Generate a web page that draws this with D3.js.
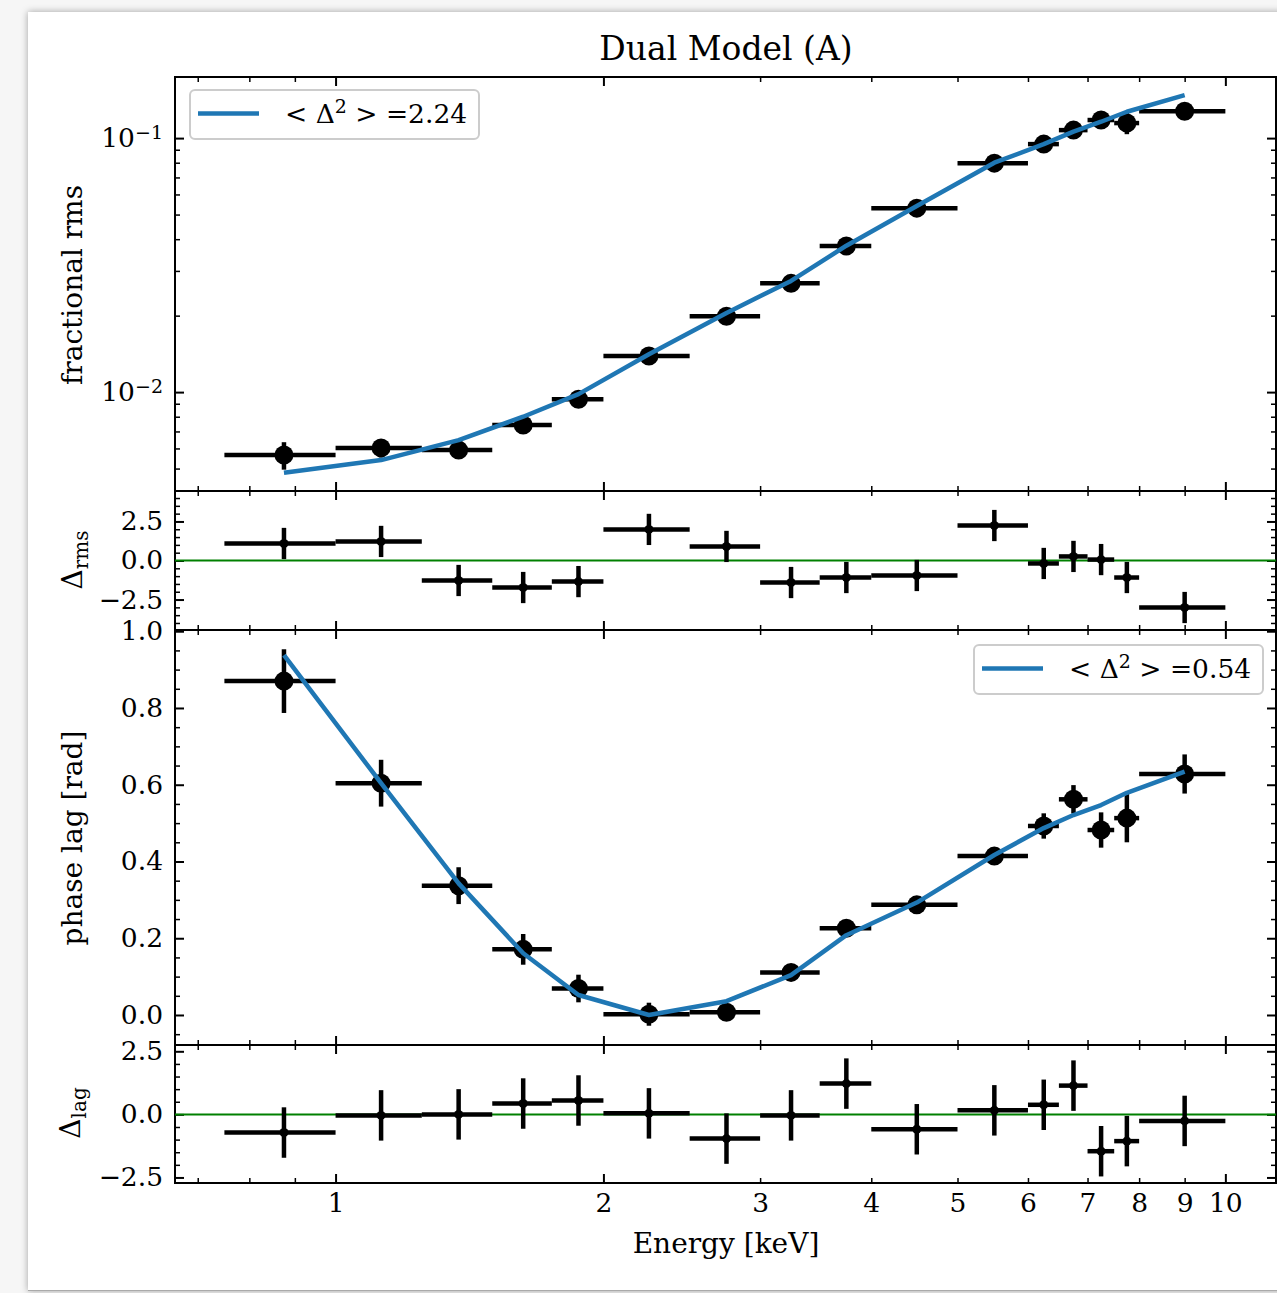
<!DOCTYPE html>
<html>
<head>
<meta charset="utf-8">
<script src="https://cdn.jsdelivr.net/npm/d3@7"></script>
<style>
  html, body { margin: 0; padding: 0; background: #f6f6f6; overflow: hidden; }
  #card { position: absolute; left: 28px; top: 12px; width: 1300px; height: 1278px;
          background: #fff; box-shadow: 0 0 7px rgba(0,0,0,0.35); border-bottom: 1px solid #aaa; }
  svg { position: absolute; left: 0; top: 0; }
  text { font-family: "DejaVu Serif", serif; fill: #000; }
</style>
</head>
<body>
<div id="card"></div>
<svg id="fig" width="1277" height="1293"></svg>
<script>
// Energy bins [keV]
const binLo = [0.75, 1.0, 1.25, 1.5, 1.75, 2.0, 2.5, 3.0, 3.5, 4.0, 5.0, 6.0, 6.5, 7.0, 7.5, 8.0];
const binHi = [1.0, 1.25, 1.5, 1.75, 2.0, 2.5, 3.0, 3.5, 4.0, 5.0, 6.0, 6.5, 7.0, 7.5, 8.0, 10.0];
const energy = [0.875, 1.125, 1.375, 1.625, 1.875, 2.25, 2.75, 3.25, 3.75, 4.5, 5.5, 6.25, 6.75, 7.25, 7.75, 9.0];

// Fractional rms spectrum, model and residuals
const rmsData  = [0.00565, 0.00603, 0.00591, 0.00742, 0.00938, 0.01387, 0.0199, 0.0268, 0.0376, 0.0530, 0.0797, 0.0947, 0.1075, 0.1178, 0.1146, 0.1276];
const rmsErr   = [0.0007, 0.0005, 0.00045, 0.00035, 0.0003, 0.0004, 0.0005, 0.0006, 0.0008, 0.0010, 0.0015, 0.003, 0.004, 0.004, 0.011, 0.0067];
const rmsModel = [0.00481, 0.00540, 0.00647, 0.0080, 0.00982, 0.0141, 0.0205, 0.0274, 0.0377, 0.0540, 0.0800, 0.0947, 0.1060, 0.1160, 0.1270, 0.1476];
const rmsResid = [1.09, 1.22, -1.28, -1.73, -1.35, 1.99, 0.90, -1.41, -1.09, -0.96, 2.24, -0.19, 0.26, 0.06, -1.09, -3.01];

// Phase-lag spectrum, model and residuals
const lagData  = [0.870, 0.604, 0.337, 0.171, 0.069, 0.002, 0.007, 0.111, 0.226, 0.287, 0.414, 0.4925, 0.562, 0.482, 0.513, 0.628];
const lagErr   = [0.083, 0.061, 0.048, 0.040, 0.036, 0.030, 0.020, 0.020, 0.020, 0.020, 0.020, 0.033, 0.037, 0.046, 0.063, 0.051];
const lagModel = [0.938, 0.604, 0.343, 0.161, 0.052, 0.000, 0.036, 0.104, 0.208, 0.293, 0.417, 0.487, 0.521, 0.547, 0.579, 0.634];
const lagResid = [-0.72, -0.04, 0.00, 0.43, 0.55, 0.04, -0.96, -0.04, 1.22, -0.59, 0.16, 0.38, 1.14, -1.46, -1.06, -0.26];

// Legend statistics
const rmsStat = "2.24";
const lagStat = "0.54";

// Ticks
const xMajor = [1, 2, 10];
const xMinor = [0.7, 0.8, 0.9, 3, 4, 5, 6, 7, 8, 9];
const xLabelTicks = [1, 2, 3, 4, 5, 6, 7, 8, 9, 10];
const rmsMajor = [0.01, 0.1];
const rmsMinor = [0.005, 0.006, 0.007, 0.008, 0.009, 0.02, 0.03, 0.04, 0.05, 0.06, 0.07, 0.08, 0.09];
const resMajor = [-2.5, 0, 2.5];
const rmsResMinor = [-4, -3.5, -3, -2, -1.5, -1, -0.5, 0.5, 1, 1.5, 2, 3, 3.5, 4];
const lagResMinor = [-2, -1.5, -1, -0.5, 0.5, 1, 1.5, 2];
const lagMajor = [0, 0.2, 0.4, 0.6, 0.8, 1.0];
const lagMinor = [-0.05, 0.05, 0.1, 0.15, 0.25, 0.3, 0.35, 0.45, 0.5, 0.55, 0.65, 0.7, 0.75, 0.85, 0.9, 0.95];

const svg = d3.select("#fig");
const X0 = 175, X1 = 1276;
const x = d3.scaleLog().domain([0.66, 11.4]).range([X0, X1]);
const BLUE = "#1f77b4";
const TICK_FONT = 26.5;
const LABEL_FONT = 28;

const panels = [
  { id: "rms",    top: 77,   bottom: 491,  y: d3.scaleLog().domain([0.00408, 0.174]).range([491, 77]),
    major: rmsMajor, minor: rmsMinor, fmt: null },
  { id: "rmsres", top: 491,  bottom: 630,  y: d3.scaleLinear().domain([-4.45, 4.45]).range([630, 491]),
    major: resMajor, minor: rmsResMinor, fmt: d3.format(".1f") },
  { id: "lag",    top: 630,  bottom: 1045, y: d3.scaleLinear().domain([-0.0782, 1.0032]).range([1045, 630]),
    major: lagMajor, minor: lagMinor, fmt: d3.format(".1f") },
  { id: "lagres", top: 1045, bottom: 1183, y: d3.scaleLinear().domain([-2.72, 2.75]).range([1183, 1045]),
    major: resMajor, minor: lagResMinor, fmt: d3.format(".1f") }
];

// draws one set of inward-pointing ticks (no labels)
function tickAxis(g, axis, values, size, width) {
  g.call(axis.tickValues(values).tickSize(size).tickFormat(""));
  g.select(".domain").remove();
  g.selectAll(".tick line").attr("stroke", "#000").attr("stroke-width", width);
}

panels.forEach(p => {
  const g = svg.append("g");
  const clipId = "clip-" + p.id;
  svg.append("clipPath").attr("id", clipId).append("rect")
    .attr("x", X0).attr("y", p.top).attr("width", X1 - X0).attr("height", p.bottom - p.top);

  // ticks on all four sides
  const sides = [
    [() => d3.axisBottom(x), `translate(0,${p.bottom})`, "x"],
    [() => d3.axisTop(x),    `translate(0,${p.top})`,    "x"],
    [() => d3.axisLeft(p.y), `translate(${X0},0)`,       "y"],
    [() => d3.axisRight(p.y),`translate(${X1},0)`,       "y"]
  ];
  sides.forEach(([mk, tr, kind]) => {
    tickAxis(g.append("g").attr("transform", tr), mk(), kind === "x" ? xMinor : p.minor, -5, 1.5);
    tickAxis(g.append("g").attr("transform", tr), mk(), kind === "x" ? xMajor : p.major, -9, 2);
  });

  // y tick labels
  const lab = g.append("g").attr("transform", `translate(${X0},0)`)
    .call(d3.axisLeft(p.y).tickValues(p.major).tickSize(0).tickPadding(12)
      .tickFormat(p.fmt ? p.fmt : (d => "10")));
  lab.select(".domain").remove();
  lab.selectAll("text").attr("font-size", TICK_FONT).attr("font-family", "DejaVu Serif");
  if (!p.fmt) {
    lab.selectAll("text").each(function(d) {
      const t = d3.select(this);
      t.text("10");
      t.append("tspan").attr("font-size", 19).attr("dy", "-0.45em")
        .text("\u2212" + Math.round(-Math.log10(d)));
    });
  }

  p.g = g;
  p.clip = `url(#${clipId})`;

  // frame
  g.append("rect").attr("x", X0).attr("y", p.top).attr("width", X1 - X0).attr("height", p.bottom - p.top)
    .attr("fill", "none").attr("stroke", "#000").attr("stroke-width", 2);
});

// x tick labels under the bottom panel
const xl = svg.append("g").attr("transform", `translate(0,${panels[3].bottom})`)
  .call(d3.axisBottom(x).tickValues(xLabelTicks).tickSize(0).tickPadding(10).tickFormat(d3.format("d")));
xl.select(".domain").remove();
xl.selectAll("text").attr("font-size", TICK_FONT).attr("font-family", "DejaVu Serif");

// error-bar crosses with a marker at the bin centre
function errorbars(p, vals, errs, r) {
  const layer = p.g.append("g").attr("clip-path", p.clip);
  const pts = energy.map((e, i) => ({ e, lo: binLo[i], hi: binHi[i], v: vals[i], s: errs[i] }));
  layer.selectAll(".xe").data(pts).join("line")
    .attr("x1", d => x(d.lo)).attr("x2", d => x(d.hi))
    .attr("y1", d => p.y(d.v)).attr("y2", d => p.y(d.v))
    .attr("stroke", "#000").attr("stroke-width", 4.5);
  layer.selectAll(".ye").data(pts).join("line")
    .attr("x1", d => x(d.e)).attr("x2", d => x(d.e))
    .attr("y1", d => p.y(d.v - d.s)).attr("y2", d => p.y(d.v + d.s))
    .attr("stroke", "#000").attr("stroke-width", 4.5);
  layer.selectAll("circle").data(pts).join("circle")
    .attr("cx", d => x(d.e)).attr("cy", d => p.y(d.v)).attr("r", r).attr("fill", "#000");
}
function modelLine(p, vals) {
  p.g.append("path").attr("clip-path", p.clip)
    .datum(energy.map((e, i) => [e, vals[i]]))
    .attr("d", d3.line().x(d => x(d[0])).y(d => p.y(d[1])))
    .attr("fill", "none").attr("stroke", BLUE).attr("stroke-width", 4.5).attr("stroke-linejoin", "round");
}
function zeroLine(p) {
  p.g.append("line").attr("x1", X0).attr("x2", X1).attr("y1", p.y(0)).attr("y2", p.y(0))
    .attr("stroke", "#008000").attr("stroke-width", 2);
}
const ones = energy.map(() => 1);

// fractional rms
errorbars(panels[0], rmsData, rmsErr, 9.5);
modelLine(panels[0], rmsModel);
// rms residuals
zeroLine(panels[1]);
errorbars(panels[1], rmsResid, ones, 4.5);
// phase lag
errorbars(panels[2], lagData, lagErr, 9.5);
modelLine(panels[2], lagModel);
// lag residuals
zeroLine(panels[3]);
errorbars(panels[3], lagResid, ones, 4.5);

// legends
function legend(bx, by, stat) {
  const g = svg.append("g").attr("transform", `translate(${bx},${by})`);
  g.append("rect").attr("width", 289).attr("height", 49).attr("rx", 5)
    .attr("fill", "#fff").attr("fill-opacity", 0.8).attr("stroke", "#cccccc").attr("stroke-width", 2);
  g.append("line").attr("x1", 8).attr("x2", 69).attr("y1", 23.5).attr("y2", 23.5)
    .attr("stroke", BLUE).attr("stroke-width", 4.5);
  const t = g.append("text").attr("x", 95).attr("y", 24).attr("dy", "0.35em").attr("font-size", TICK_FONT);
  t.append("tspan").text("< \u0394");
  t.append("tspan").attr("font-size", 19).attr("dy", "-0.55em").text("2");
  t.append("tspan").attr("dy", "0.4em").text(" > =" + stat);
}
legend(190, 90, rmsStat);
legend(974, 645, lagStat);

// title and axis labels
svg.append("text").attr("x", 726).attr("y", 48).attr("dy", "0.35em").attr("text-anchor", "middle")
  .attr("font-size", 33).text("Dual Model (A)");
svg.append("text").attr("x", 726).attr("y", 1243).attr("dy", "0.35em").attr("text-anchor", "middle")
  .attr("font-size", LABEL_FONT).text("Energy [keV]");
function ylabel(cx, cy, main, sub) {
  const t = svg.append("text").attr("transform", `translate(${cx},${cy}) rotate(-90)`)
    .attr("text-anchor", "middle").attr("dy", "0.35em").attr("font-size", LABEL_FONT);
  t.append("tspan").text(main);
  if (sub) t.append("tspan").attr("font-size", 20).attr("dy", "0.3em").text(sub);
}
ylabel(72, 285, "fractional rms");
ylabel(72, 560, "\u0394", "rms");
ylabel(72, 838, "phase lag [rad]");
ylabel(70, 1113, "\u0394", "lag");
</script>
</body>
</html>
